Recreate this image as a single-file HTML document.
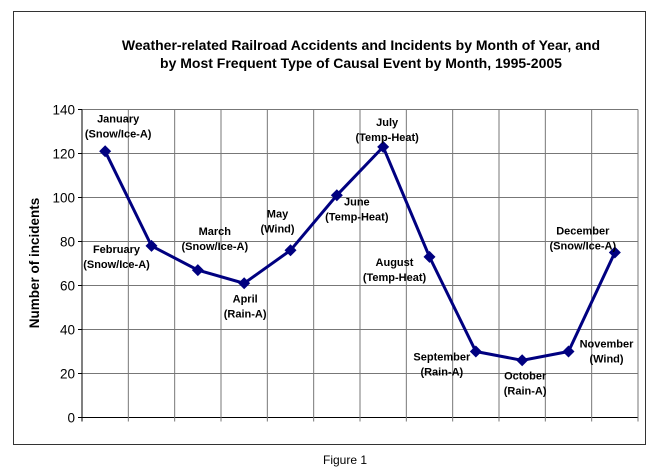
<!DOCTYPE html>
<html><head><meta charset="utf-8"><style>
body{margin:0;background:#fff;}
svg{display:block;font-family:"Liberation Sans",Arial,sans-serif;}
</style></head><body>
<svg width="655" height="475" xmlns="http://www.w3.org/2000/svg">
<rect x="13.5" y="11.5" width="632" height="433" fill="#fff" stroke="#333" stroke-width="1"/>
<text x="361" y="50" text-anchor="middle" font-size="14" font-weight="bold">Weather-related Railroad Accidents and Incidents by Month of Year, and</text>
<text x="361" y="68" text-anchor="middle" font-size="14" font-weight="bold">by Most Frequent Type of Causal Event by Month, 1995-2005</text>
<text transform="translate(39,263) rotate(-90)" text-anchor="middle" font-size="13.5" font-weight="bold">Number of incidents</text>
<text x="345" y="464" text-anchor="middle" font-size="12">Figure 1</text>
<g id="grid"></g><g id="ticks"></g><g id="series"></g><g id="labels"></g>
</svg>
<script>
const months=["January","February","March","April","May","June","July","August","September","October","November","December"];
const causes=["Snow/Ice-A","Snow/Ice-A","Snow/Ice-A","Rain-A","Wind","Temp-Heat","Temp-Heat","Temp-Heat","Rain-A","Rain-A","Wind","Snow/Ice-A"];
const values=[121,78,67,61,76,101,123,73,30,26,30,75];
const yTicks=[0,20,40,60,80,100,120,140];
const labelDx=[13,-35,17,1,-13,20,4,-35,-34,3,38,-32];
const labelDy=[-29,7,-35,19,-33,10,-21,9,9,19,-4,-18];
const NS="http://www.w3.org/2000/svg";
const L=82,R=638,T=109.5,B=417.5,YMAX=140;
const step=(R-L)/months.length;
const x=i=>L+step*(i+0.5);
const y=v=>B-(v/YMAX)*(B-T);
function mk(tag,attrs,parent){const e=document.createElementNS(NS,tag);for(const k in attrs)e.setAttribute(k,attrs[k]);parent.appendChild(e);return e;}
const grid=document.getElementById('grid'),ticks=document.getElementById('ticks'),series=document.getElementById('series'),labels=document.getElementById('labels');
yTicks.forEach(t=>{
 const g=mk('line',{x1:L,x2:R,y1:y(t),y2:y(t),stroke:t===0?'#000':'#777','stroke-width':1},grid);
 
 
 mk('line',{x1:L-4,x2:L,y1:y(t),y2:y(t),stroke:'#000'},ticks);
 const tl=mk('text',{x:L-7,y:y(t)+5,'text-anchor':'end','font-size':13.5},ticks);
 tl.textContent=t;
 
 
});
for(let i=0;i<=months.length;i++){
 const xx=L+step*i;
 const g=mk('line',{x1:xx,x2:xx,y1:T,y2:B+4,stroke:i===0?'#000':'#777','stroke-width':1},grid);
 
 
}
const pts=values.map((v,i)=>x(i)+','+y(v)).join(' ');
const line=mk('polyline',{points:pts,fill:'none',stroke:'#000080','stroke-width':3},series);


values.forEach((v,i)=>{
 const cx=x(i),cy=y(v),s=6;
 const m=mk('polygon',{points:`${cx},${cy-s} ${cx+s},${cy} ${cx},${cy+s} ${cx-s},${cy}`,fill:'#000080'},series);
 
 
 const lx=cx+labelDx[i],ly=cy+labelDy[i];
 const t1=mk('text',{x:lx,y:ly,'text-anchor':'middle','font-size':11,'font-weight':'bold'},labels);
 t1.textContent=months[i];
 
 
 const t2=mk('text',{x:lx,y:ly+15,'text-anchor':'middle','font-size':11,'font-weight':'bold'},labels);
 t2.textContent='('+causes[i]+')';
 
 
});
</script>
</body></html>
